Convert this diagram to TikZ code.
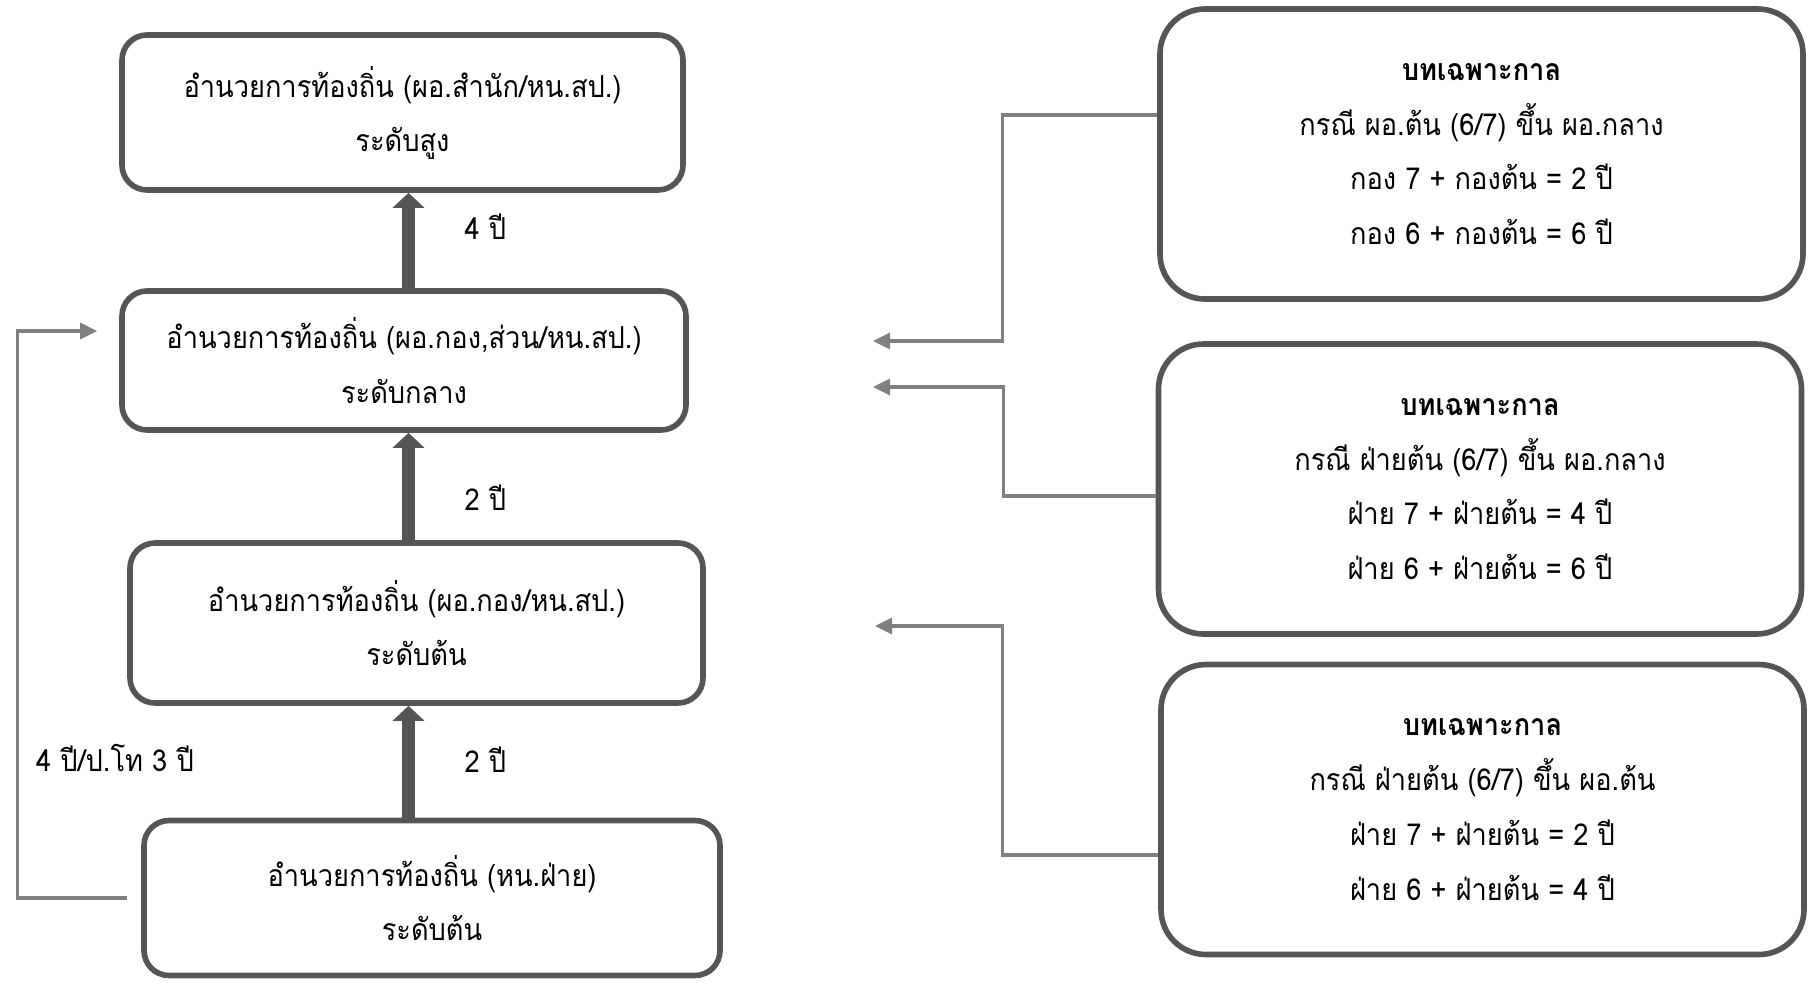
\documentclass[tikz,border=0pt]{standalone}
\usepackage{fontspec}
\setmainfont[Script=Thai,FakeStretch=0.9]{Loma}
\usepackage{tikz}
\usetikzlibrary{positioning,arrows.meta,calc}
\definecolor{boxgray}{HTML}{555555}
\definecolor{linegray}{HTML}{808080}

\begin{document}
\begin{tikzpicture}[node distance=25mm,on grid,>={Triangle[width=1.6mm,length=1.7mm]},
		level/.style={rectangle,rounded corners=2.5mm,draw=boxgray,line width=1.6pt,align=center,
			font=\fontsize{8.6}{15.4}\selectfont},
		note/.style={rectangle,rounded corners=4.5mm,draw=boxgray,line width=1.6pt,align=center,
			font=\fontsize{8.6}{15.6}\selectfont,minimum width=64.3mm,minimum height=29mm},
		climb/.style={draw=boxgray,line width=3.7pt,-{Triangle[width=3.1mm,length=1.5mm]}},
		link/.style={draw=linegray,line width=0.9pt,->},
		yrs/.style={font=\fontsize{8.6}{10}\selectfont}]
		\useasboundingbox (0,0) rectangle (180.9mm,-98.3mm);
		
		\node[level,minimum width=56.1mm,minimum height=15.5mm] (high) at (40.25mm,-11.25mm)
			{อำนวยการท้องถิ่น (ผอ.สำนัก/หน.สป.)\\ระดับสูง};
		\node[level,minimum width=56.4mm,minimum height=13.9mm] (mid) [below=24.8mm of high,xshift=0.15mm]
			{อำนวยการท้องถิ่น (ผอ.กอง,ส่วน/หน.สป.)\\ระดับกลาง};
		\node[level,minimum width=57.3mm,minimum height=16mm] (base) [below=26.25mm of mid,xshift=1.25mm]
			{อำนวยการท้องถิ่น (ผอ.กอง/หน.สป.)\\ระดับต้น};
		\node[level,minimum width=57.6mm,minimum height=15.5mm] (low) [below=27.5mm of base,xshift=1.55mm]
			{อำนวยการท้องถิ่น (หน.ฝ่าย)\\ระดับต้น};
		
		\node[note] (caseA) at (148.15mm,-15.4mm)
			{\textbf{บทเฉพาะกาล}\\กรณี ผอ.ต้น (6/7) ขึ้น ผอ.กลาง\\กอง 7 + กองต้น = 2 ปี\\กอง 6 + กองต้น = 6 ปี};
		\node[note] (caseB) [below=33.5mm of caseA,xshift=-0.15mm]
			{\textbf{บทเฉพาะกาล}\\กรณี ฝ่ายต้น (6/7) ขึ้น ผอ.กลาง\\ฝ่าย 7 + ฝ่ายต้น = 4 ปี\\ฝ่าย 6 + ฝ่ายต้น = 6 ปี};
		\node[note] (caseC) [below=32.05mm of caseB,xshift=0.25mm]
			{\textbf{บทเฉพาะกาล}\\กรณี ฝ่ายต้น (6/7) ขึ้น ผอ.ต้น\\ฝ่าย 7 + ฝ่ายต้น = 2 ปี\\ฝ่าย 6 + ฝ่ายต้น = 4 ปี};
		
		\coordinate (spine) at (40.85mm,0);
		\coordinate (inA) at (87.3mm,-34.1mm);
		\coordinate (inB) at (87.3mm,-38.7mm);
		\coordinate (inC) at (87.5mm,-62.6mm);
		
		\draw[climb] (mid.north -| spine) -- node[yrs,pos=0.65,right=3.8mm] {4 ปี} (high.south -| spine);
		\draw[climb] (base.north -| spine) -- node[yrs,pos=0.4,right=3.8mm] {2 ปี} (mid.south -| spine);
		\draw[climb] (low.north -| spine) -- node[yrs,pos=0.52,right=3.8mm] {2 ปี} (base.south -| spine);
		
		\draw[link,shorten <=1.4mm,shorten >=2.2mm] (low.west) -- ++(-12.4mm,0) |- ([yshift=2.95mm]mid.west);
		\node[yrs] (fast) at (11.5mm,-75.8mm) {4 ปี/ป.โท 3 ปี};
		
		\draw[link] ([yshift=3.9mm]caseA.west) -- ++(-15.5mm,0) |- (inA);
		\draw[link] ([yshift=-0.7mm]caseB.west) -- ++(-15.2mm,0) |- (inB);
		\draw[link] ([yshift=-4.55mm]caseC.west) -- ++(-15.6mm,0) |- (inC);
\end{tikzpicture}
\end{document}
